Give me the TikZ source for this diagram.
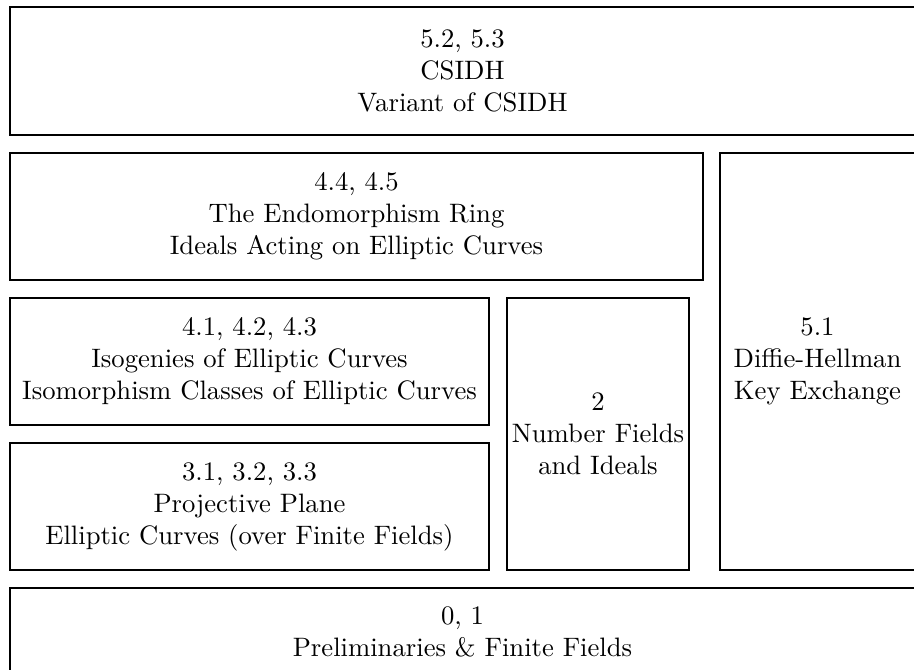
\documentclass[tikz,border=0pt]{standalone}
\begin{document}
\def\u{0.375pt}
\begin{tikzpicture}[x=0.375pt,y=-0.375pt,
  box/.style={draw, line width=0.4pt, inner sep=0pt, outer sep=0pt, align=center, font=\fontsize{10}{12}\selectfont},
  lbl/.style={inner sep=0pt, outer sep=0pt, align=center, font=\fontsize{10}{12}\selectfont}]
\useasboundingbox (0,0) rectangle (914,670);
\clip (0,0) rectangle (914,670);
\node[box, minimum width=905*\u, minimum height=128*\u] (csidh) at (462.5,71) {5.2, 5.3\\CSIDH\\Variant of CSIDH};
\node[box, minimum width=693*\u, minimum height=127*\u] (endo) at (356.5,216.5) {4.4, 4.5\\The Endomorphism Ring\\Ideals Acting on Elliptic Curves};
\node[box, minimum width=195*\u, minimum height=417*\u] (dh) at (817.5,361.5) {5.1\\Diffie-Hellman\\Key Exchange};
\node[box, minimum width=479*\u, minimum height=127*\u] (iso) at (249.5,361.5) {4.1, 4.2, 4.3\\Isogenies of Elliptic Curves\\Isomorphism Classes of Elliptic Curves};
\node[box, minimum width=182*\u, minimum height=272*\u] (nf) at (598,434) {2\\Number Fields\\and Ideals};
\node[box, minimum width=479*\u, minimum height=127*\u] (proj) at (249.5,506.5) {3.1, 3.2, 3.3\\Projective Plane\\Elliptic Curves (over Finite Fields)};
\node[box, minimum width=905*\u, minimum height=128*\u] (prelim) at (462.5,652) {};
\node[lbl] (prelimtext) at (462.5,632) {0, 1\\Preliminaries \& Finite Fields};
\end{tikzpicture}
\end{document}
